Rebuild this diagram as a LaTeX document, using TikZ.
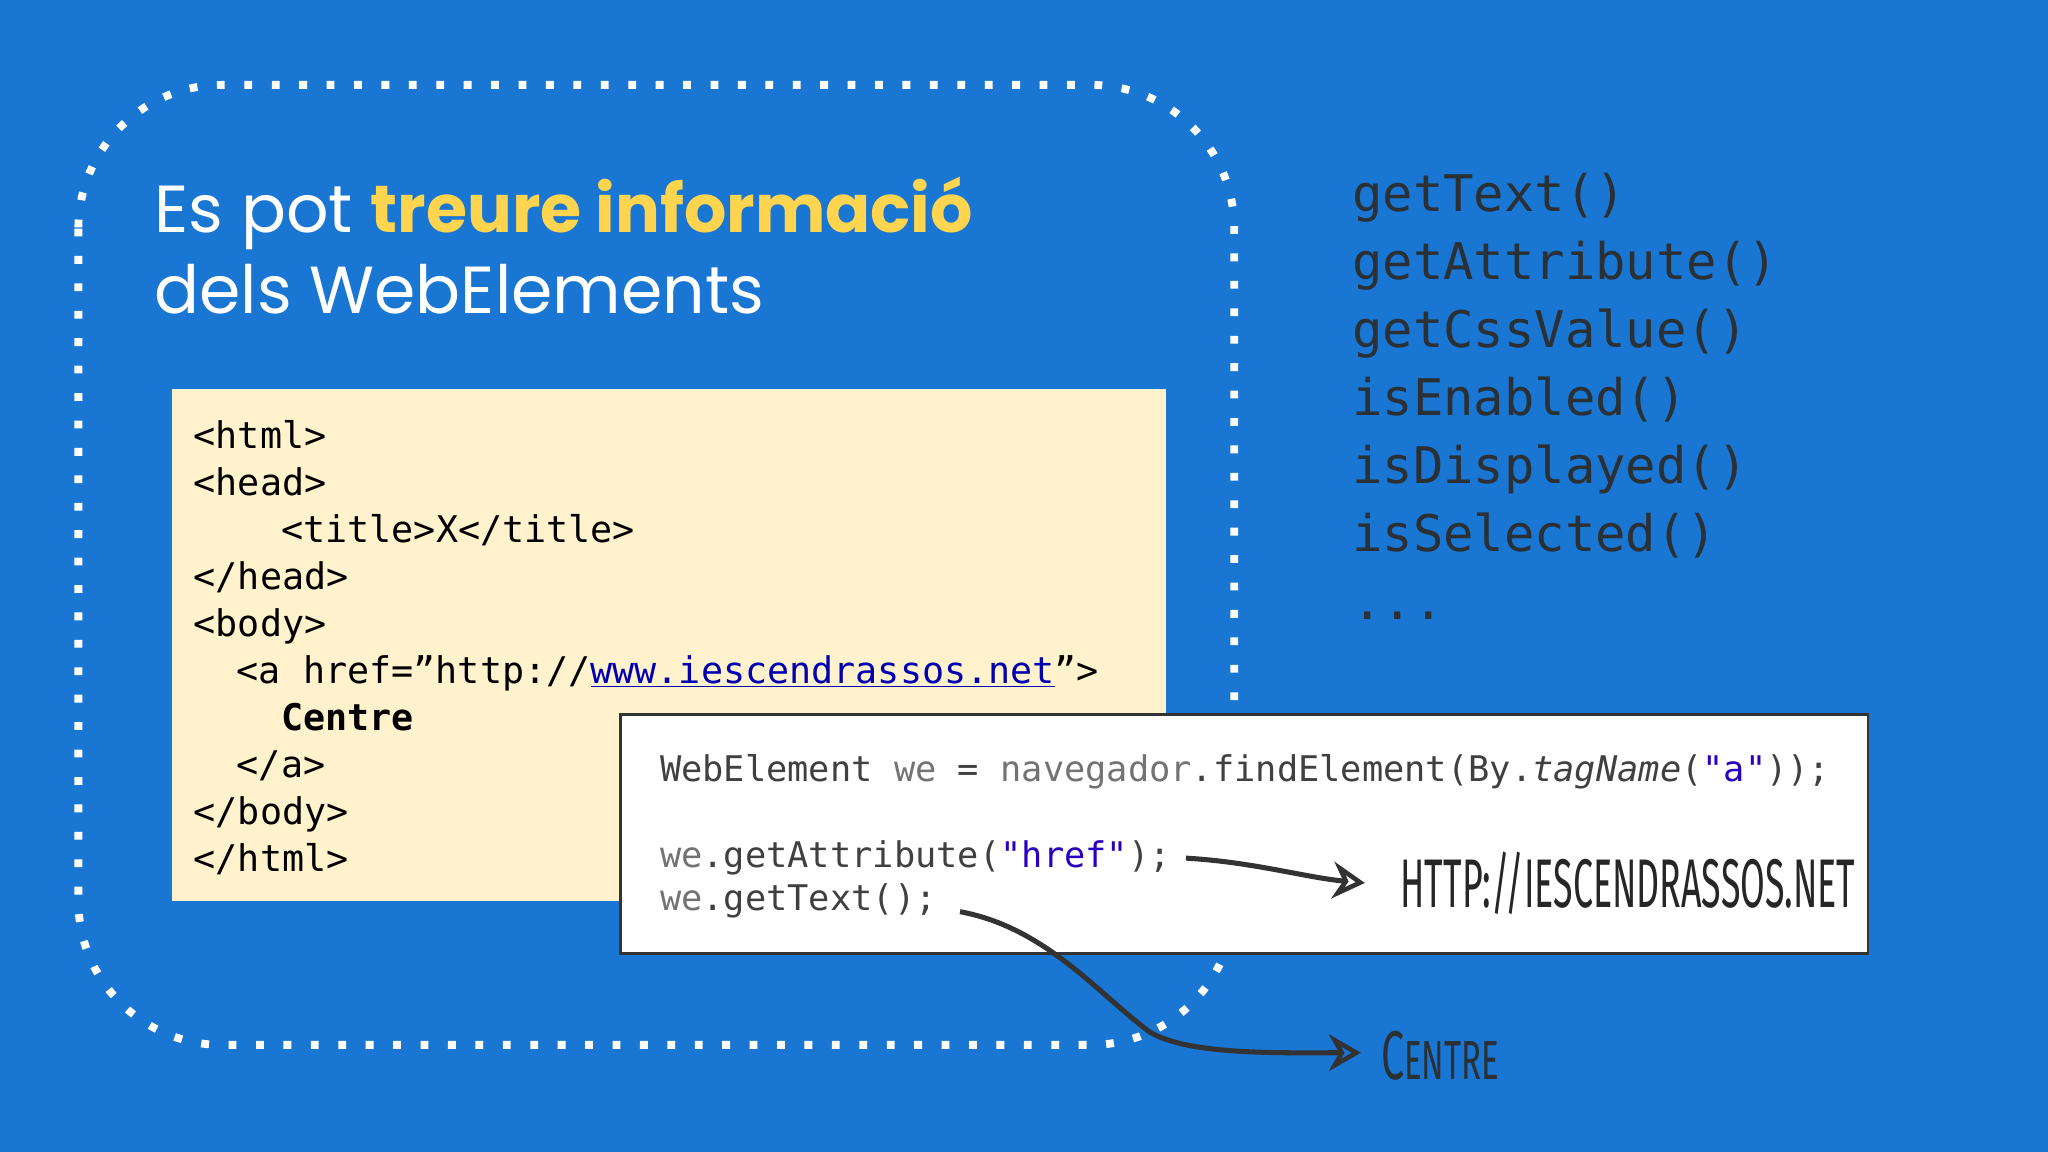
\documentclass[tikz,border=0pt]{standalone}
\usepackage{fontspec}
\usepackage{graphicx}
\setmainfont{Poppins}
\setmonofont{DejaVu Sans Mono}
\newfontfamily\hand{Fira Sans}
\usetikzlibrary{positioning,arrows.meta}
\definecolor{bgblue}{HTML}{1976D2}
\definecolor{titleyel}{HTML}{FFD54F}
\definecolor{codeyel}{HTML}{FFF2CC}
\definecolor{listgray}{HTML}{2B3035}
\definecolor{strblue}{HTML}{2A00C0}
\tikzset{yelline/.style={anchor=base west, inner sep=0pt, font=\ttfamily\fontsize{16}{16}\selectfont, text=black}}
\tikzset{listline/.style={anchor=base west, inner sep=0pt, font=\ttfamily\fontsize{22}{22}\selectfont, text=listgray}}
\tikzset{whiteline/.style={anchor=base west, inner sep=0pt, font=\ttfamily\fontsize{15.4}{15.4}\selectfont, text=black!75}}
\tikzset{handarrow/.style={line width=2.2pt, draw=black!80, -{Stealth[open, length=14pt, width=16pt, line width=2pt]}}}
\begin{document}
\begin{tikzpicture}[x=0.02cm, y=-0.02cm]
\fill[bgblue] (0,0) rectangle (1568,882);
\useasboundingbox (0,0) rectangle (1568,882);

% dotted frame
\draw[white, line width=0.12cm, dash pattern=on 0.12cm off 0.3cm, rounded corners=2.2cm]
  (60,65) rectangle (945,800);

% title
\node[anchor=base west, inner sep=0pt, text=white, font=\fontsize{29}{29}\selectfont] (title1) at (118,178)
  {Es pot \textcolor{titleyel}{\textbf{treure informació}}};
\node[anchor=base west, inner sep=0pt, text=white, font=\fontsize{29}{29}\selectfont] (title2) at (118,240)
  {dels WebElements};

% html box
\fill[codeyel] (132,298) rectangle (893,690);
\node[yelline] (l1) at (148,343) {<html>};
\node[yelline] (l2) at (148,379) {<head>};
\node[yelline] (l3) at (215,415) {<title>X</title>};
\node[yelline] (l4) at (148,451) {</head>};
\node[yelline] (l5) at (148,487) {<body>};
\node[yelline] (l6) at (181,523) {<a href=”http://\textcolor{blue!70!black}{\underline{www.iescendrassos.net}}”>};
\node[yelline] (l7) at (215,559) {\textbf{Centre}};
\node[yelline] (l8) at (181,595) {</a>};
\node[yelline] (l9) at (148,631) {</body>};
\node[yelline] (l10) at (148,667) {</html>};

% method list
\node[listline] (m1) at (1035,162) {getText()};
\node[listline] (m2) at (1035,214) {getAttribute()};
\node[listline] (m3) at (1035,266) {getCssValue()};
\node[listline] (m4) at (1035,318) {isEnabled()};
\node[listline] (m5) at (1035,370) {isDisplayed()};
\node[listline] (m6) at (1035,422) {isSelected()};
\node[listline] (m7) at (1035,474) {...};

% java box
\draw[fill=white, draw=black!80, line width=1pt] (475,547) rectangle (1430,730);
\node[whiteline] (j1) at (505,598) {WebElement \textcolor{black!55}{we} = \textcolor{black!55}{navegador}.findElement(By.\textit{tagName}(\textcolor{strblue}{"a"}));};
\node[whiteline] (j2) at (505,664) {\textcolor{black!55}{we}.getAttribute(\textcolor{strblue}{"href"});};
\node[whiteline] (j3) at (505,697) {\textcolor{black!55}{we}.getText();};

% results
\node[anchor=west, inner sep=0pt, text=black!85, font=\hand\fontsize{30}{30}\selectfont] (res1) at (1072,676)
  {\scalebox{0.52}[1]{HTTP://IESCENDRASSOS.NET}};
\node[anchor=west, inner sep=0pt, text=black!85, font=\hand\fontsize{30}{30}\selectfont, text=listgray] (res2) at (1057,808)
  {\scalebox{0.6}[1]{C\fontsize{24}{24}\selectfont ENTRE}};

\coordinate (a1s) at (908,657);
\coordinate (a2s) at (735,698);
\draw[handarrow] (a1s) .. controls (960,660) and (1000,672) .. (1045,676);
\draw[handarrow] (a2s) .. controls (800,710) and (840,760) .. (880,790)
  .. controls (910,808) and (980,806) .. (1042,806);
\end{tikzpicture}
\end{document}
